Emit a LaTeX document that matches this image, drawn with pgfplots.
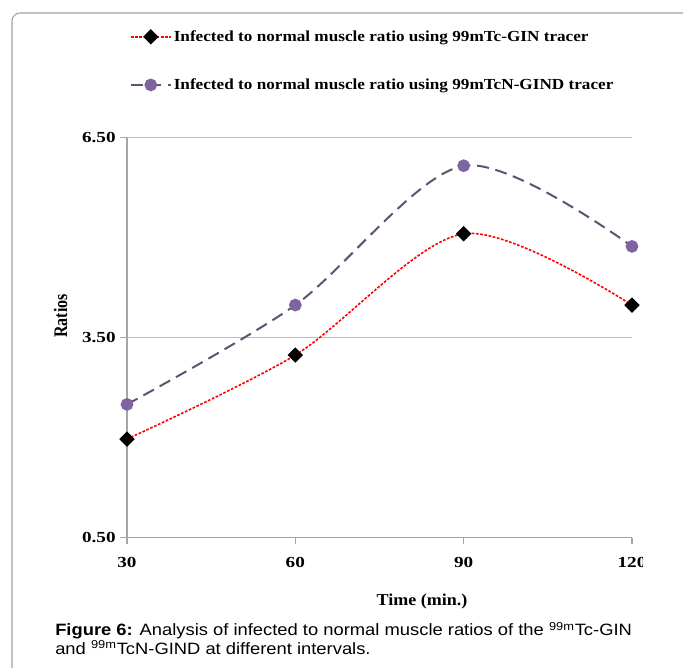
\documentclass[border=0pt]{standalone}
\usepackage{fontspec}
\setmainfont{Liberation Serif}
\newfontfamily\capfont{Liberation Sans}
\usepackage{graphicx}
\usepackage{pgfplots}
\pgfplotsset{compat=1.18}
\definecolor{gridgray}{HTML}{BFBFBF}
\definecolor{axgray}{HTML}{A6A6A6}
\definecolor{dashcol}{HTML}{575772}
\definecolor{purp}{HTML}{8064A2}
\definecolor{framegray}{HTML}{A0A0A0}
\newcommand\sx[1]{\scalebox{1.25}[1]{#1}}
\newcommand\stx[1]{\scalebox{1.12}[1]{#1}}
\begin{document}
\begin{tikzpicture}
\useasboundingbox (0,0) rectangle (512.25pt,501pt);
\draw[framegray, line width=0.8pt, rounded corners=6pt] (9pt,-2pt) -- (9pt,491.25pt) -- (520pt,491.25pt);
\begin{axis}[
  at={(95.25pt,97.7pt)}, anchor=south west,
  scale only axis, width=378.75pt, height=300pt,
  xmin=30, xmax=120, ymin=0.5, ymax=6.5,
  xtick={30,60,90,120}, ytick={0.5,3.5,6.5},
  axis x line*=bottom, axis y line*=left,
  axis line style={axgray, line width=0.8pt},
  ymajorgrids, grid style={gridgray, line width=1pt},
  tick align=outside, major tick length=5pt,
  tick style={axgray, line width=0.8pt},
  /pgf/number format/assume math mode=true,
  ticklabel style={font=\bfseries\fontsize{11.5}{14}\selectfont},
  xticklabel style={yshift=-6.5pt},
  yticklabel={\sx{\pgfmathprintnumber[fixed,fixed zerofill,precision=2]{\tick}}},
  xticklabel={\sx{\pgfmathprintnumber{\tick}}},
  clip=false,
  legend cell align=left,
  legend style={at={(0.005,1.274)}, anchor=north west, draw=none, fill=none,
    font=\bfseries\fontsize{11.5}{13}\selectfont, row sep=23.5pt, inner sep=0pt,
    nodes={inner sep=1.5pt}},
  legend image code/.code={\draw[#1, mark repeat=2, mark phase=2] plot coordinates {(0pt,0pt) (15pt,0pt) (30pt,0pt)};},
]
\addplot[red, line width=1.2pt, dash pattern=on 2pt off 1.2pt, smooth,
  mark=square*, mark size=3.5pt, mark options={solid, fill=black, draw=black, rotate=45}]
  coordinates {(30,1.98) (60,3.24) (90,5.06) (120,3.99)};
\addlegendentry{\stx{Infected to normal muscle ratio using 99mTc-GIN tracer}}
\addplot[dashcol, line width=1.5pt, dash pattern=on 9pt off 5pt, smooth,
  mark=*, mark size=4pt, mark options={solid, fill=purp, draw=purp}]
  coordinates {(30,2.50) (60,3.99) (90,6.08) (120,4.87)};
\addlegendentry{\stx{Infected to normal muscle ratio using 99mTcN-GIND tracer}}
\end{axis}
\fill[white] (482pt,60pt) rectangle (512.25pt,90pt);
\node[rotate=90, font=\bfseries\fontsize{12}{14}\selectfont] at (45.5pt,264pt) {\scalebox{1}[1.2]{Ratios}};
\node[anchor=base, inner sep=0, font=\bfseries\fontsize{12.5}{14}\selectfont] at (316.5pt,46.5pt) {\scalebox{1.08}[1]{Time (min.)}};
\node[anchor=base west, inner sep=0, font=\capfont\fontsize{12.3}{16}\selectfont] at (41.25pt,24pt) {\stx{\textbf{Figure 6:} Analysis of infected to normal muscle ratios of the \textsuperscript{99m}Tc-GIN}};
\node[anchor=base west, inner sep=0, font=\capfont\fontsize{12.3}{16}\selectfont] at (41.25pt,10pt) {\stx{and \textsuperscript{99m}TcN-GIND at different intervals.}};
\end{tikzpicture}
\end{document}
